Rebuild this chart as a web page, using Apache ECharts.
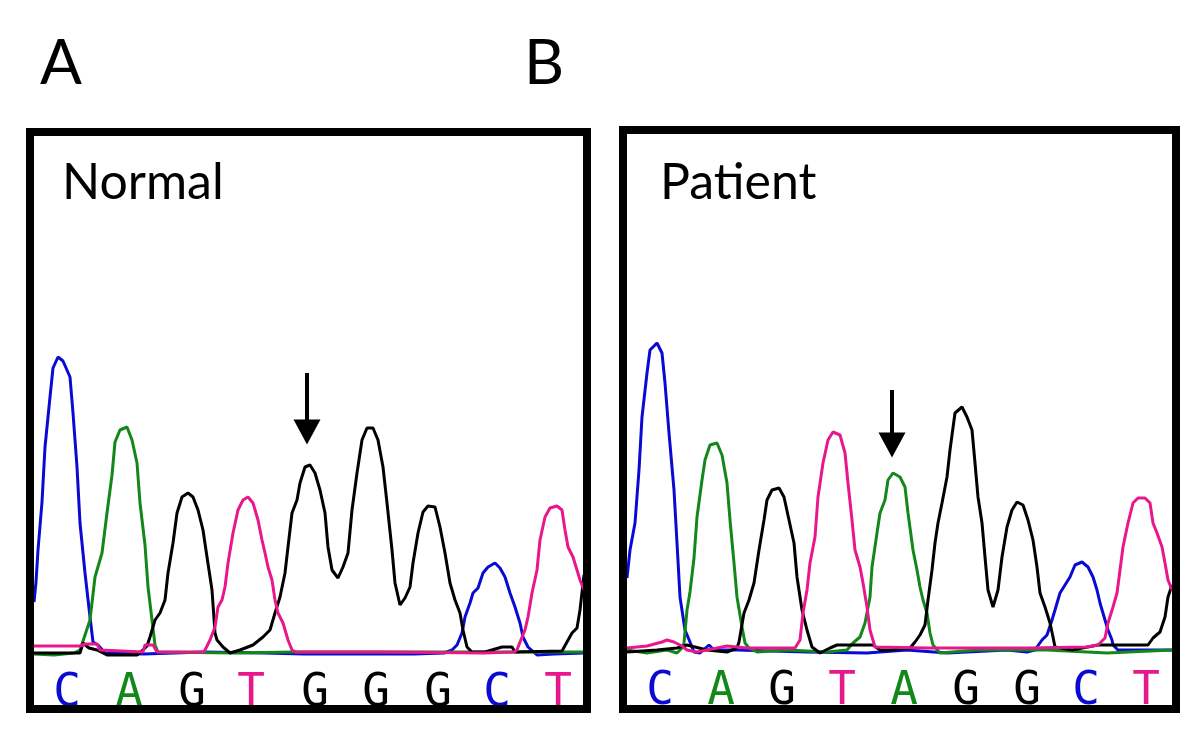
<!DOCTYPE html>
<html>
<head>
<meta charset="utf-8">
<title>Chromatogram</title>
<script src="https://cdn.jsdelivr.net/npm/echarts@6/dist/echarts.min.js"></script>
<style>
  html, body { margin: 0; padding: 0; background: #fff; }
  #chart { width: 1200px; height: 750px; }
</style>
</head>
<body>
<div id="chart"></div>
<script>
// base calls under each trace
const normalBases = ['C', 'A', 'G', 'T', 'G', 'G', 'G', 'C', 'T'];
const normalBasePos = [33, 95, 158, 217, 281, 342, 404, 463, 524];
const patientBases = ['C', 'A', 'G', 'T', 'A', 'G', 'G', 'C', 'T'];
const patientBasePos = [33, 94, 155, 215, 277, 339, 400, 459, 519];

// [scan position, signal]
const normalC = [[0,50],[2,70],[4,102],[8,150],[11,205],[16,255],[19,284],[24,295],[29,291],[36,275],[39,239],[43,185],[46,129],[51,79],[56,35],[59,10],[64,7],[71,-1],[110,-2],[170,0],[230,-1],[270,-2],[330,-2],[380,-2],[410,-1],[418,2],[423,7],[428,19],[431,35],[436,49],[439,59],[444,64],[449,79],[454,85],[461,89],[466,84],[471,75],[476,59],[481,45],[486,29],[489,15],[494,5],[503,-3],[520,-2],[550,-1]];
const normalA = [[0,-2],[20,-3],[40,-1],[46,2],[56,32],[61,75],[68,99],[73,139],[78,177],[81,210],[86,222],[93,225],[98,212],[103,189],[106,149],[111,107],[114,65],[118,32],[121,7],[124,0],[200,-1],[260,0],[400,0],[550,0]];
const normalG = [[0,-1],[46,-1],[49,9],[55,4],[63,2],[73,-3],[103,-3],[109,2],[113,6],[116,15],[121,32],[126,39],[131,52],[134,79],[139,109],[143,139],[148,155],[154,159],[159,155],[164,142],[169,122],[173,95],[178,62],[181,19],[183,12],[189,5],[196,-1],[206,2],[219,7],[229,15],[236,22],[241,39],[246,55],[251,79],[254,105],[258,139],[263,152],[266,169],[271,185],[276,187],[281,179],[286,162],[291,139],[294,105],[298,82],[304,74],[309,85],[314,99],[318,142],[323,179],[328,212],[333,224],[339,224],[344,212],[349,185],[353,149],[358,102],[361,69],[366,47],[371,54],[376,65],[379,89],[384,119],[389,140],[394,146],[401,145],[406,125],[411,99],[416,69],[421,52],[426,39],[429,22],[433,5],[438,0],[451,0],[468,5],[478,5],[481,0],[528,1],[533,10],[538,19],[543,24],[546,42],[550,77]];
const normalT = [[0,6],[46,6],[51,8],[63,8],[66,2],[109,0],[111,7],[119,7],[123,0],[170,0],[176,12],[181,25],[184,45],[188,52],[191,65],[194,89],[199,119],[204,142],[209,152],[214,155],[219,149],[224,132],[228,112],[231,99],[234,85],[238,72],[241,52],[244,39],[249,29],[254,12],[258,2],[262,0],[350,0],[450,-1],[480,0],[483,2],[486,10],[491,22],[494,35],[498,59],[503,82],[506,112],[511,135],[516,144],[523,146],[528,142],[531,122],[534,105],[539,95],[543,82],[546,72],[550,62]];

const patientC = [[0,72],[3,100],[5,100],[8,127],[12,180],[15,233],[20,277],[23,300],[30,307],[35,297],[38,267],[42,217],[47,160],[50,107],[53,53],[58,20],[63,8],[67,-2],[73,-3],[82,5],[87,0],[110,0],[180,-2],[240,-3],[280,0],[320,-3],[380,0],[400,-2],[408,0],[410,3],[415,10],[420,15],[425,30],[428,40],[433,57],[438,65],[443,73],[448,85],[455,88],[461,83],[466,73],[470,60],[473,47],[478,30],[481,20],[485,10],[486,5],[491,0],[545,0]];
const patientA = [[0,0],[20,-3],[40,0],[50,-3],[55,2],[57,7],[60,40],[63,58],[67,92],[70,133],[75,170],[78,190],[83,205],[90,207],[95,195],[100,167],[103,130],[107,87],[110,53],[115,23],[118,7],[122,2],[130,-2],[160,0],[200,-2],[220,0],[226,7],[233,13],[238,27],[243,53],[245,83],[250,117],[253,137],[258,150],[261,170],[266,177],[273,173],[278,163],[281,137],[286,100],[290,80],[293,63],[296,50],[300,37],[303,17],[306,5],[313,-3],[350,0],[420,0],[480,-3],[545,0]];
const patientG = [[0,-2],[30,0],[50,2],[60,5],[80,0],[100,-2],[110,2],[112,8],[117,37],[122,50],[127,67],[132,100],[137,130],[140,150],[145,160],[152,162],[157,153],[162,130],[167,107],[170,73],[175,40],[180,20],[185,3],[193,-3],[203,2],[210,5],[246,5],[253,0],[263,0],[283,2],[288,8],[293,15],[298,25],[301,50],[305,80],[308,107],[311,127],[315,147],[320,173],[323,200],[328,237],[335,243],[340,233],[345,220],[348,187],[351,153],[355,127],[358,93],[361,60],[366,43],[371,60],[375,93],[380,123],[385,140],[390,148],[396,145],[401,130],[406,110],[410,83],[413,57],[418,43],[423,27],[426,13],[428,3],[445,0],[471,5],[521,5],[526,12],[533,18],[538,33],[541,53],[545,65]];
const patientT = [[0,2],[20,4],[35,8],[40,10],[47,8],[55,4],[60,0],[70,-2],[90,2],[100,4],[110,3],[120,2],[168,2],[173,10],[176,37],[180,60],[183,87],[188,113],[191,153],[196,187],[201,210],[206,218],[213,215],[218,197],[221,167],[225,130],[228,100],[233,83],[236,67],[240,43],[243,20],[248,3],[300,2],[400,2],[460,3],[471,5],[478,12],[481,27],[486,43],[490,57],[493,80],[496,103],[501,127],[506,147],[511,152],[518,152],[523,147],[526,127],[530,117],[535,103],[538,87],[541,70],[545,60]];

// arrows pointing at the changed base: [scan, from signal, to signal]
const normalArrow = [273, 279, 220];
const patientArrow = [265, 260, 205];

const COLORS = { C: '#0a0ad2', A: '#13881a', G: '#000000', T: '#e8188c' };
const LABEL_FONT = 'Lato, "Open Sans", sans-serif';

const chart = echarts.init(document.getElementById('chart'));

function baseRich() {
  const rich = {};
  Object.keys(COLORS).forEach((b) => {
    rich[b] = {
      color: COLORS[b],
      fontFamily: '"DejaVu Sans Mono", monospace',
      fontSize: 46,
      lineHeight: 46,
    };
  });
  return rich;
}

function xAxisFor(gridIndex, max, positions, bases) {
  return {
    type: 'value',
    gridIndex,
    min: 0,
    max,
    axisLine: { show: false },
    axisTick: { show: false },
    splitLine: { show: false },
    axisLabel: {
      customValues: positions,
      margin: 32,
      verticalAlign: 'middle',
      formatter: (v) => {
        const b = bases[positions.indexOf(v)] || '';
        return `{${b}|${b}}`;
      },
      rich: baseRich(),
    },
  };
}

function yAxisFor(gridIndex) {
  return {
    type: 'value',
    gridIndex,
    min: -10,
    max: 520,
    show: false,
    splitLine: { show: false },
  };
}

function trace(data, base, idx, arrow) {
  const s = {
    type: 'line',
    xAxisIndex: idx,
    yAxisIndex: idx,
    data,
    symbol: 'none',
    silent: true,
    lineStyle: { color: COLORS[base], width: 3 },
    itemStyle: { color: COLORS[base] },
  };
  if (arrow) {
    s.markLine = {
      silent: true,
      symbol: ['none', 'triangle'],
      symbolSize: [27, 25],
      label: { show: false },
      lineStyle: { color: '#000', width: 4, type: 'solid' },
      data: [[{ coord: [arrow[0], arrow[1]] }, { coord: [arrow[0], arrow[2]] }]],
    };
  }
  return s;
}

const option = {
  animation: false,
  backgroundColor: '#fff',
  grid: [
    { left: 34, width: 550, top: 132, height: 530 },
    { left: 627, width: 545, top: 130, height: 530 },
  ],
  xAxis: [
    xAxisFor(0, 550, normalBasePos, normalBases),
    xAxisFor(1, 545, patientBasePos, patientBases),
  ],
  yAxis: [yAxisFor(0), yAxisFor(1)],
  series: [
    trace(normalC, 'C', 0),
    trace(normalA, 'A', 0),
    trace(normalG, 'G', 0),
    trace(normalT, 'T', 0, normalArrow),
    trace(patientC, 'C', 1),
    trace(patientA, 'A', 1),
    trace(patientG, 'G', 1),
    trace(patientT, 'T', 1, patientArrow),
  ],
  graphic: [
    { type: 'rect', z: 100, shape: { x: 30, y: 132, width: 557, height: 577 },
      style: { fill: 'none', stroke: '#000', lineWidth: 8 } },
    { type: 'rect', z: 100, shape: { x: 623, y: 130, width: 553, height: 579 },
      style: { fill: 'none', stroke: '#000', lineWidth: 8 } },
    { type: 'text', x: 40, y: 64, z: 100,
      style: { text: 'A', font: `62px ${LABEL_FONT}`, fill: '#000', verticalAlign: 'middle' } },
    { type: 'text', x: 524, y: 64, z: 100,
      style: { text: 'B', font: `62px ${LABEL_FONT}`, fill: '#000', verticalAlign: 'middle' } },
    { type: 'text', x: 62, y: 183, z: 100,
      style: { text: 'Normal', font: `50px ${LABEL_FONT}`, fill: '#000', verticalAlign: 'middle' } },
    { type: 'text', x: 660, y: 183, z: 100,
      style: { text: 'Patient', font: `50px ${LABEL_FONT}`, fill: '#000', verticalAlign: 'middle' } },
  ],
};

chart.setOption(option);
</script>
</body>
</html>
